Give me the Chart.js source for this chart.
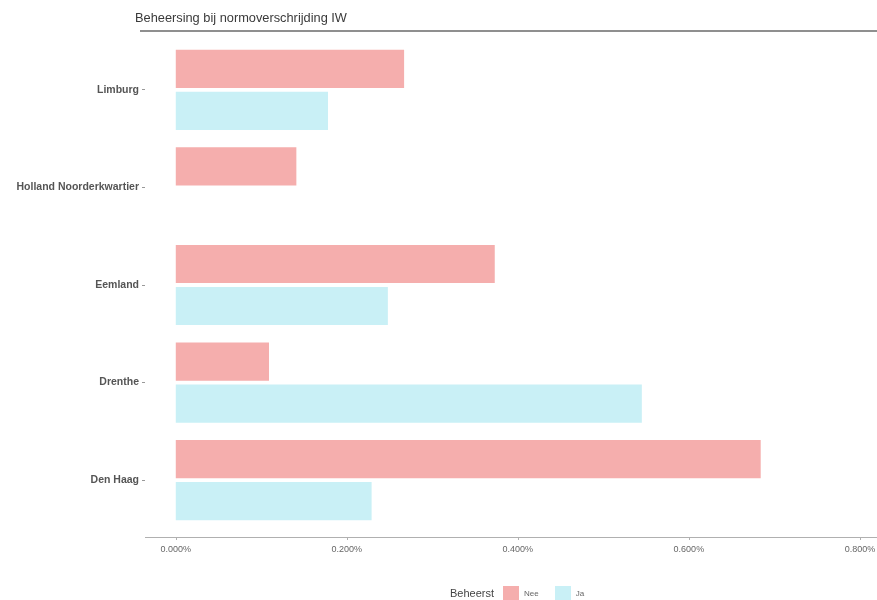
<!DOCTYPE html>
<html>
<head>
<meta charset="utf-8">
<script src="https://cdn.jsdelivr.net/npm/chart.js@4"></script>
<style>
    body { margin: 0; background: #fff; font-family: "Liberation Sans", Arial, sans-serif; }
    #wrap { position: relative; width: 877px; height: 600px; }
    #titel { position: absolute; left: 135px; top: 10px; font-size: 12.8px; color: #3a3a3a; }
    #lijn { position: absolute; left: 140px; top: 30px; width: 737px; height: 0; border-top: 2px solid #8f8f8f; }
    #legenda { position: absolute; left: 450px; top: 586px; font-size: 11px; color: #444; display: flex; align-items: center; }
    #legenda span.vak { display: inline-block; width: 16px; height: 14px; margin: 0 5px 0 9px; }
    #legenda span.tekst { font-size: 8px; color: #666; }
</style>
</head>
<body>
<div id="wrap">
    <canvas id="grafiek" width="877" height="600"></canvas>
    <div id="titel">Beheersing bij normoverschrijding IW</div>
    <div id="lijn"></div>
    <div id="legenda">
        Beheerst
        <span class="vak" style="background:#F5AEAD"></span><span class="tekst">Nee</span>
        <span class="vak" style="background:#C9F0F6; margin-left:16px"></span><span class="tekst">Ja</span>
    </div>
</div>
<script>
// Regio's (van boven naar beneden)
const regios = ['Limburg', 'Holland Noorderkwartier', 'Eemland', 'Drenthe', 'Den Haag'];

// Percentage normoverschrijdingen per regio
const nee = [0.267, 0.141, 0.373, 0.109, 0.684];
const ja  = [0.178, null, 0.248, 0.545, 0.229];

// Labels op de x-as
const xTicks = [0, 0.2, 0.4, 0.6, 0.8];

// x-as lijn iets onder het plotgebied, zoals ggplot met expansie
const asLijn = {
    id: 'asLijn',
    afterDraw(chart) {
        const { ctx, chartArea, scales } = chart;
        const y = chartArea.bottom + 8;
        ctx.save();
        ctx.strokeStyle = '#b0b0b0';
        ctx.lineWidth = 1;
        ctx.beginPath();
        ctx.moveTo(chartArea.left, y + 0.5);
        ctx.lineTo(chartArea.right, y + 0.5);
        xTicks.forEach(v => {
            const x = Math.round(scales.x.getPixelForValue(v)) + 0.5;
            ctx.moveTo(x, y);
            ctx.lineTo(x, y + 3);
        });
        ctx.stroke();
        ctx.restore();
    }
};

new Chart(document.getElementById('grafiek'), {
    type: 'bar',
    data: {
        labels: regios,
        datasets: [
            { label: 'Nee', data: nee, backgroundColor: '#F5AEAD', borderWidth: 0 },
            { label: 'Ja',  data: ja,  backgroundColor: '#C9F0F6', borderWidth: 0 }
        ]
    },
    options: {
        indexAxis: 'y',
        responsive: false,
        animation: false,
        categoryPercentage: 0.86,
        barPercentage: 0.91,
        layout: { padding: { top: 41, bottom: 40, left: 0, right: 0 } },
        plugins: {
            legend: { display: false },
            tooltip: { enabled: false }
        },
        scales: {
            x: {
                min: -0.036,
                max: 0.82,
                afterBuildTicks: s => { s.ticks = xTicks.map(v => ({ value: v })); },
                afterFit: s => { s.height = 31; s.paddingRight = 0; s.paddingLeft = 0; },
                border: { display: false },
                grid: { display: false },
                ticks: {
                    callback: v => v.toFixed(3) + '%',
                    color: '#666',
                    font: { family: '"Liberation Sans", Arial, sans-serif', size: 9 },
                    padding: 7,
                    maxRotation: 0,
                    autoSkip: false
                }
            },
            y: {
                afterFit: s => { s.width = 145; },
                border: { display: false },
                grid: { drawOnChartArea: false, drawTicks: true, tickLength: 3, color: '#999', offset: false },
                ticks: {
                    color: '#555',
                    font: { family: '"Liberation Sans", Arial, sans-serif', size: 10.5, weight: 'bold' },
                    padding: 3
                }
            }
        }
    },
    plugins: [asLijn]
});
</script>
</body>
</html>
